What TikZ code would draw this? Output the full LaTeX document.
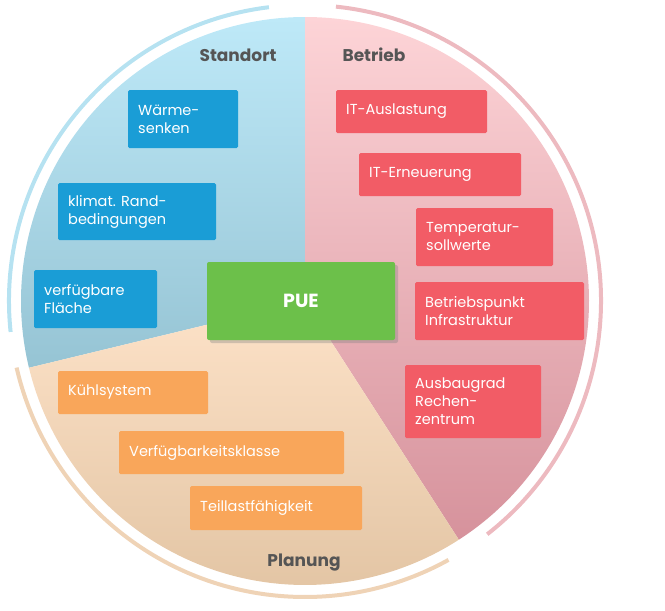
\documentclass[tikz,border=0pt]{standalone}
\usepackage{fontspec}
\setmainfont{Poppins}
\usetikzlibrary{shadows,calc}
\definecolor{bluebox}{HTML}{1A9DD6}
\definecolor{redbox}{HTML}{F25C66}
\definecolor{orbox}{HTML}{F9A65A}
\definecolor{grn}{HTML}{6CC04A}
\definecolor{head}{HTML}{555555}
\definecolor{bT}{HTML}{BEE9F8}\definecolor{bB}{HTML}{96C4D4}
\definecolor{rT}{HTML}{FDD4D7}\definecolor{rB}{HTML}{D6929C}
\definecolor{oT}{HTML}{FDE2C8}\definecolor{oB}{HTML}{E2C4A3}
\begin{document}
\begin{tikzpicture}[x=1pt,y=-1pt,
 boxtext/.style={text=white,font=\fontsize{14.5}{18}\selectfont,align=left,inner sep=0pt,anchor=west},
 hd/.style={text=head,font=\bfseries\fontsize{17}{20}\selectfont}]
\useasboundingbox (0,0) rectangle (665,611);
\def\R{284}
\coordinate (C) at (305,301);
\shade[top color=bT,bottom color=bB] (C) -- (305,17) arc[start angle=-90,end angle=-193.6,radius=\R] -- cycle;
\shade[top color=rT,bottom color=rB] (C) -- (305,17) arc[start angle=-90,end angle=57.2,radius=\R] -- cycle;
\shade[top color=oT,bottom color=oB] (C) -- ($(C)+(57.2:\R)$) arc[start angle=57.2,end angle=166.4,radius=\R] -- cycle;
% outer arcs
\draw[bT!80!bB,line width=4] ($(C)+(-97:296)$) arc[start angle=-97,end angle=-186,radius=296];
\draw[rT!60!rB,line width=4] ($(C)+(-84:296)$) arc[start angle=-84,end angle=52,radius=296];
\draw[oT!50!oB,line width=4] ($(C)+(61:296)$) arc[start angle=61,end angle=167,radius=296];
% headings
\node[hd] (hs) at (238,55) {Standort};
\node[hd] (hb) at (374,55) {Betrieb};
\node[hd] (hp) at (304,563) {Planung};
% boxes
\newcommand\bxt[7]{\fill[#1,rounded corners=1.5pt] (#2,#3) rectangle (#4,#5);
 \node[boxtext] (#6) at ({#2+10},{(#3+#5)/2}) {#7};}
\bxt{bluebox}{128}{90}{238}{148}{b1}{Wärme-\\senken}
\bxt{bluebox}{58}{183}{216}{240}{b2}{klimat. Rand-\\bedingungen}
\bxt{bluebox}{34}{270}{157}{328}{b3}{verfügbare\\Fläche}
\bxt{redbox}{336}{90}{487}{133}{r1}{IT-Auslastung}
\bxt{redbox}{359}{153}{521}{196}{r2}{IT-Erneuerung}
\bxt{redbox}{416}{208}{553}{266}{r3}{Temperatur-\\sollwerte}
\bxt{redbox}{415}{282}{584}{340}{r4}{Betriebspunkt\\Infrastruktur}
\bxt{redbox}{405}{365}{541}{438}{r5}{Ausbaugrad\\Rechen-\\zentrum}
\bxt{orbox}{58}{371}{208}{414}{o1}{Kühlsystem}
\bxt{orbox}{119}{431}{344}{474}{o2}{Verfügbarkeitsklasse}
\bxt{orbox}{190}{486}{362}{530}{o3}{Teillastfähigkeit}
\node[fill=grn,text=white,font=\bfseries\fontsize{19}{22}\selectfont,minimum width=188pt,minimum height=78pt,rounded corners=2pt,drop shadow={shadow xshift=3pt,shadow yshift=-3pt,opacity=0.35}] (pue) at (301,301) {PUE};
\end{tikzpicture}
\end{document}
